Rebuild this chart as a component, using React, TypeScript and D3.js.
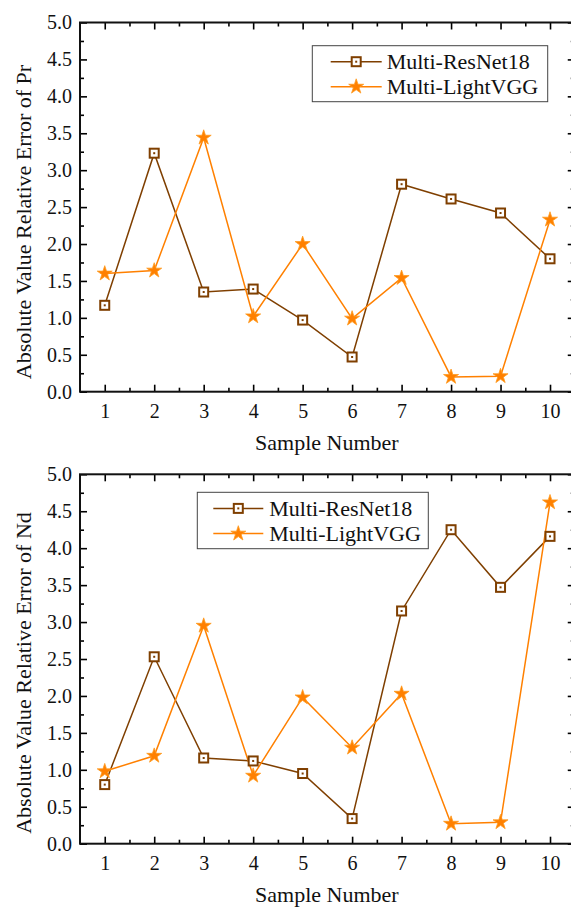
import React, { useEffect, useRef } from 'react';
import * as d3 from 'd3';

// Sample numbers on the x axis
const samples = [1, 2, 3, 4, 5, 6, 7, 8, 9, 10];

// Pr panel (top)
const prResNet18 = [1.17, 3.23, 1.35, 1.39, 0.97, 0.47, 2.81, 2.61, 2.42, 1.8];
const prLightVGG = [1.6, 1.64, 3.44, 1.02, 2.0, 0.99, 1.54, 0.2, 0.21, 2.33];

// Nd panel (bottom)
const ndResNet18 = [0.8, 2.53, 1.16, 1.12, 0.95, 0.34, 3.15, 4.25, 3.47, 4.16];
const ndLightVGG = [0.98, 1.19, 2.95, 0.92, 1.98, 1.3, 2.03, 0.27, 0.29, 4.62];

const yTicks = [0, 0.5, 1, 1.5, 2, 2.5, 3, 3.5, 4, 4.5, 5];
const seriesNames = ['Multi-ResNet18', 'Multi-LightVGG'];

const BROWN = '#7f3f00';
const ORANGE = '#ff8000';
const FONT = "'Liberation Serif', Tinos, 'DejaVu Serif', serif";

const App = () => {
  const ref = useRef<SVGSVGElement | null>(null);

  useEffect(() => {
    if (!ref.current) return;
    const svg = d3.select(ref.current);
    svg.selectAll('*').remove();

    const left = 80;
    const right = 574.75;

    const x = d3.scaleLinear().domain([0.5, 10.5]).range([left, right]);
    const star = d3.symbol().type(d3.symbolStar).size(70);

    const drawPanel = (
      top: number,
      bottom: number,
      resnet: number[],
      vgg: number[],
      yLabel: string,
      labelCenter: number,
      legend: { x0: number; x1: number; y0: number; y1: number; lx0: number; lx1: number; tx: number }
    ) => {
      const y = d3.scaleLinear().domain([0, 5]).range([bottom, top]);
      const g = svg.append('g');

      const styleAxis = (sel: any) => {
        sel.attr('font-family', null).attr('font-size', null);
        sel.select('.domain').remove();
        sel.selectAll('line').attr('stroke', '#000').attr('stroke-width', 1.6);
        sel.selectAll('text')
          .style('font-family', FONT)
          .style('font-size', '20px')
          .attr('fill', '#111');
      };

      const minorX = d3.range(1.5, 10.5, 1);
      const minorY = d3.range(0.25, 5, 0.5);

      // bottom axis with labels
      g.append('g')
        .attr('transform', `translate(0,${bottom})`)
        .call(d3.axisBottom(x).tickValues(samples).tickSize(-7).tickPadding(12).tickFormat(d3.format('d')))
        .call(styleAxis);
      g.append('g')
        .attr('transform', `translate(0,${bottom})`)
        .call(d3.axisBottom(x).tickValues(minorX).tickSize(-4).tickFormat(() => ''))
        .call(styleAxis);
      // top axis
      g.append('g')
        .attr('transform', `translate(0,${top})`)
        .call(d3.axisTop(x).tickValues(samples).tickSize(-7).tickFormat(() => ''))
        .call(styleAxis);
      g.append('g')
        .attr('transform', `translate(0,${top})`)
        .call(d3.axisTop(x).tickValues(minorX).tickSize(-4).tickFormat(() => ''))
        .call(styleAxis);
      // left axis with labels
      g.append('g')
        .attr('transform', `translate(${left},0)`)
        .call(d3.axisLeft(y).tickValues(yTicks).tickSize(-7).tickPadding(8).tickFormat(d3.format('.1f')))
        .call(styleAxis);
      g.append('g')
        .attr('transform', `translate(${left},0)`)
        .call(d3.axisLeft(y).tickValues(minorY).tickSize(-4).tickFormat(() => ''))
        .call(styleAxis);
      // right axis
      g.append('g')
        .attr('transform', `translate(${right},0)`)
        .call(d3.axisRight(y).tickValues(yTicks).tickSize(-7).tickFormat(() => ''))
        .call(styleAxis);
      g.append('g')
        .attr('transform', `translate(${right},0)`)
        .call(d3.axisRight(y).tickValues(minorY).tickSize(-4).tickFormat(() => ''))
        .call(styleAxis);

      // frame
      g.append('rect')
        .attr('x', left)
        .attr('y', top)
        .attr('width', right - left)
        .attr('height', bottom - top)
        .attr('fill', 'none')
        .attr('stroke', '#111')
        .attr('stroke-width', 2);

      // axis titles
      g.append('text')
        .attr('x', (left + right) / 2 - 0.5)
        .attr('y', bottom + 58)
        .attr('text-anchor', 'middle')
        .style('font-family', FONT)
        .style('font-size', '22px')
        .attr('fill', '#111')
        .text('Sample Number');

      g.append('text')
        .attr('transform', `translate(31,${labelCenter}) rotate(-90)`)
        .attr('text-anchor', 'middle')
        .style('font-family', FONT)
        .style('font-size', '22px')
        .attr('fill', '#111')
        .text(yLabel);

      const line = d3.line<number>()
        .x((_, i) => x(samples[i]))
        .y(d => y(d));

      // ResNet18 series
      g.append('path')
        .datum(resnet)
        .attr('fill', 'none')
        .attr('stroke', BROWN)
        .attr('stroke-width', 1.5)
        .attr('d', line);

      // LightVGG series
      g.append('path')
        .datum(vgg)
        .attr('fill', 'none')
        .attr('stroke', ORANGE)
        .attr('stroke-width', 1.5)
        .attr('d', line);

      const drawSquare = (sel: any, cx: number, cy: number) => {
        sel.append('rect')
          .attr('x', cx - 4.5)
          .attr('y', cy - 4.5)
          .attr('width', 9)
          .attr('height', 9)
          .attr('fill', '#fff')
          .attr('stroke', BROWN)
          .attr('stroke-width', 2);
        sel.append('rect')
          .attr('x', cx - 1)
          .attr('y', cy - 1)
          .attr('width', 2)
          .attr('height', 2)
          .attr('fill', BROWN);
      };

      const drawStar = (sel: any, cx: number, cy: number) => {
        sel.append('path')
          .attr('d', star())
          .attr('transform', `translate(${cx},${cy})`)
          .attr('fill', ORANGE)
          .attr('stroke', '#ff9a20')
          .attr('stroke-width', 0.8);
      };

      resnet.forEach((v, i) => drawSquare(g, x(samples[i]), y(v)));
      vgg.forEach((v, i) => drawStar(g, x(samples[i]), y(v)));

      // legend
      const lg = g.append('g');
      lg.append('rect')
        .attr('x', legend.x0)
        .attr('y', legend.y0)
        .attr('width', legend.x1 - legend.x0)
        .attr('height', legend.y1 - legend.y0)
        .attr('fill', '#fff')
        .attr('stroke', '#444')
        .attr('stroke-width', 1);
      const rowH = (legend.y1 - legend.y0) / 2;
      seriesNames.forEach((name, i) => {
        const ry = legend.y0 + rowH * (i + 0.5) + (i === 0 ? 2 : -1);
        const mx = (legend.lx0 + legend.lx1) / 2;
        lg.append('line')
          .attr('x1', legend.lx0)
          .attr('x2', legend.lx1)
          .attr('y1', ry)
          .attr('y2', ry)
          .attr('stroke', i === 0 ? BROWN : ORANGE)
          .attr('stroke-width', 1.5);
        if (i === 0) drawSquare(lg, mx, ry);
        else drawStar(lg, mx, ry);
        lg.append('text')
          .attr('x', legend.tx)
          .attr('y', ry)
          .attr('dy', '0.34em')
          .style('font-family', FONT)
          .style('font-size', '22px')
          .attr('fill', '#111')
          .text(name);
      });
    };

    drawPanel(22.5, 391.7, prResNet18, prLightVGG, 'Absolute Value Relative Error of Pr', 222, {
      x0: 312.3, x1: 547.7, y0: 45.7, y1: 101.7, lx0: 330.7, lx1: 381.7, tx: 386.7
    });
    drawPanel(474.3, 843.7, ndResNet18, ndLightVGG, 'Absolute Value Relative Error of Nd', 673, {
      x0: 197.3, x1: 428.3, y0: 492.3, y1: 548.7, lx0: 213.3, lx1: 263.3, tx: 269.3
    });
  }, []);

  return (
    <svg
      ref={ref}
      width={571}
      height={909}
      style={{ position: 'absolute', left: 0, top: 0, background: '#fff' }}
    />
  );
};

export default App;
